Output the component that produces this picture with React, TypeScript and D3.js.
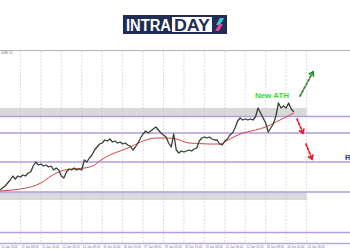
import React from "react";
import * as d3 from "d3";

// Price series (one value per bar, 8 bars per grid step)
const prices: number[] = [
  4806, 4810, 4814, 4820, 4826, 4834, 4828, 4834, 4832, 4836,
  4834, 4840, 4842, 4854, 4862, 4856, 4858, 4854, 4856, 4852,
  4854, 4846, 4850, 4846, 4834, 4830, 4842, 4848, 4846, 4850,
  4846, 4848, 4846, 4866, 4862, 4870, 4876, 4886, 4892, 4898,
  4900, 4906, 4904, 4908, 4902, 4904, 4900, 4902, 4898, 4900,
  4896, 4894, 4886, 4892, 4900, 4910, 4918, 4924, 4920, 4924,
  4928, 4932, 4926, 4920, 4916, 4912, 4900, 4892, 4918, 4886,
  4880, 4884, 4882, 4884, 4886, 4884, 4888, 4890, 4904, 4910,
  4912, 4910, 4912, 4908, 4906, 4906, 4898, 4896, 4904, 4908,
  4916, 4920, 4930, 4944, 4950, 4946, 4948, 4946, 4948, 4946,
  4952, 4970, 4960, 4950, 4940, 4922, 4930, 4938, 4954, 4980,
  4970, 4974, 4970, 4980, 4968, 4962,
];

// Moving average: [bar index, value]
const maBars: number[] = [0, 8, 12, 16, 20, 24, 28, 33, 37, 39, 43, 47, 51, 55, 61, 65, 69, 74, 78, 82, 86, 90, 94, 100, 104, 108, 112, 115];
const maValues: number[] = [4804, 4808, 4812, 4820, 4834, 4844, 4848, 4850, 4856, 4864, 4876, 4884, 4892, 4902, 4910, 4910, 4908, 4900, 4899, 4898, 4898, 4908, 4918, 4926, 4932, 4942, 4952, 4960];

// Horizontal levels
const levels: number[] = [4953, 4920, 4862, 4802, 4721];
// Gray zones [low, high]
const zones: [number, number][] = [[4954, 4970], [4786, 4802]];

// Grid bars & tick labels
const gridBars: number[] = [8, 16, 24, 32, 40, 48, 56, 64, 72, 80, 88, 96, 104, 112, 120];
const tickLabels: string[] = [
  "10 Jan 2024", "11 Jan 08:00", "12 Jan 00:00", "12 Jan 16:00", "15 Jan 08:00",
  "16 Jan 00:00", "16 Jan 16:00", "17 Jan 08:00", "18 Jan 00:00", "18 Jan 16:00",
  "19 Jan 08:00", "22 Jan 00:00", "22 Jan 16:00", "23 Jan 08:00", "24 Jan 00:00", "24 Jan 16:00",
];

const W = 350;
const H = 250;

export default function App() {
  const x = d3.scaleLinear().domain([0, 137]).range([0, 350]);
  const y = d3.scaleLinear().domain([4700, 5086]).range([243, 50]);
  const zoneEnd = x(120);

  const priceLine = d3
    .line<number>()
    .x((_, i) => x(i))
    .y((d) => y(d))(prices) as string;

  const maLine = d3
    .line<number>()
    .x((_, i) => x(maBars[i]))
    .y((d) => y(d))
    .curve(d3.curveMonotoneX)(maValues) as string;

  const arrow = (x1: number, y1: number, x2: number, y2: number, color: string, key: string) => {
    const ang = Math.atan2(y2 - y1, x2 - x1);
    const L = 4;
    const a1 = ang + Math.PI - 0.6;
    const a2 = ang + Math.PI + 0.6;
    return (
      <g key={key} stroke={color} strokeWidth={1.8} fill="none" strokeLinecap="round">
        <line x1={x1} y1={y1} x2={x2} y2={y2} strokeDasharray="2.2,2" />
        <polyline
          points={`${x2 + L * Math.cos(a1)},${y2 + L * Math.sin(a1)} ${x2},${y2} ${x2 + L * Math.cos(a2)},${y2 + L * Math.sin(a2)}`}
        />
      </g>
    );
  };

  return (
    <svg
      width={W}
      height={H}
      style={{ position: "absolute", left: 0, top: 0, background: "#fff" }}
      fontFamily="'Liberation Sans', Arial, sans-serif"
    >
      <rect x={0} y={0} width={W} height={H} fill="#fff" />

      {/* Logo */}
      <g>
        <rect x={123} y={15} width={104} height={19} fill="#1f2d55" />
        <text x={126} y={30.5} fill="#fff" fontSize={16} fontWeight="bold" textLength={45} lengthAdjust="spacingAndGlyphs">INTRA</text>
        <rect x={172} y={17} width={40} height={15} fill="#fff" />
        <text x={174} y={30.5} fill="#1f2d55" fontSize={16} fontWeight="bold" textLength={36} lengthAdjust="spacingAndGlyphs">DAY</text>
        <polygon points="216,25 220,18 224,18 220,25" fill="#35c6d6" />
        <polygon points="215,31 219,24 223,24 219,31" fill="#e83e9c" />
      </g>

      {/* top border */}
      <line x1={0} x2={W} y1={50.5} y2={50.5} stroke="#a0a0a0" strokeWidth={0.8} />
      <text x={1} y={53.5} fontSize={3.2} fill="#777">5086.50</text>

      {/* gray zones */}
      {zones.map(([lo, hi], i) => (
        <rect key={"z" + i} x={0} y={y(hi)} width={zoneEnd} height={y(lo) - y(hi)} fill="#d9d9d9" />
      ))}

      {/* vertical grid */}
      {gridBars.map((b, i) => (
        <line key={"g" + i} x1={x(b)} x2={x(b)} y1={51} y2={243} stroke="#c4c4c4" strokeWidth={0.6} strokeDasharray="2,1.5" />
      ))}

      {/* levels */}
      {levels.map((l, i) => (
        <line key={"l" + i} x1={0} x2={W} y1={y(l)} y2={y(l)} stroke="#b39ddb" strokeWidth={1.4} />
      ))}

      {/* MA */}
      <path d={maLine} fill="none" stroke="#d64545" strokeWidth={1} />
      {/* Price */}
      <path d={priceLine} fill="none" stroke="#34432f" strokeWidth={1.3} strokeLinejoin="round" />

      {/* annotations */}
      <text x={272} y={98} textAnchor="middle" fontSize={8} fontWeight="bold" fill="#33dd33">New ATH</text>
      {arrow(300, 96, 313, 72, "#2e8b2e", "ga")}
      {arrow(297, 119, 303, 133, "#e0202a", "ra1")}
      {arrow(306, 144, 312, 159, "#e0202a", "ra2")}
      <text x={345} y={160} fontSize={8} fontWeight="bold" fill="#2233ee">R</text>

      {/* bottom axis */}
      <line x1={0} x2={W} y1={243.5} y2={243.5} stroke="#b8a8d4" strokeWidth={1.6} />
      {tickLabels.map((t, i) => (
        <text key={"t" + i} x={i === 0 ? 1 : x(gridBars[i - 1]) + 1} y={248} fontSize={3} fill="#777">{t}</text>
      ))}
    </svg>
  );
}
